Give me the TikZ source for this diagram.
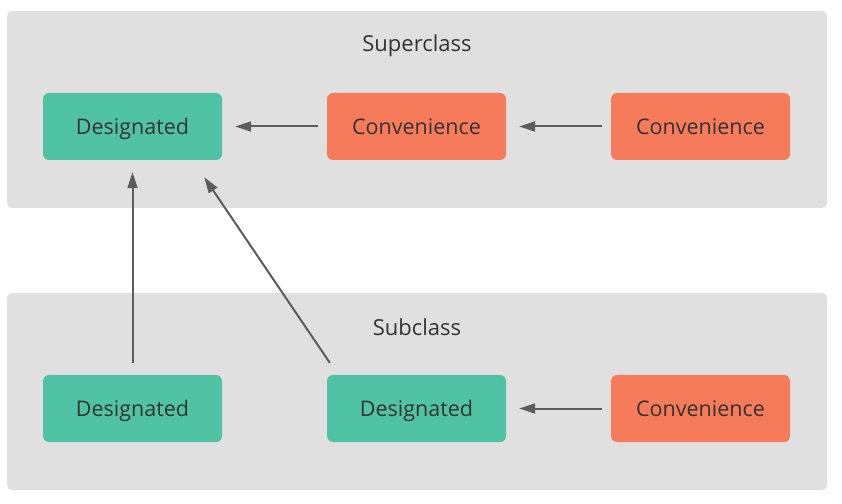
\documentclass[tikz,border=0pt]{standalone}
\usepackage{fontspec}
\setmainfont{Open Sans}
\usetikzlibrary{arrows.meta,calc}
\definecolor{panelgray}{HTML}{E0E0E0}
\definecolor{desgreen}{HTML}{50C3A5}
\definecolor{convorange}{HTML}{F57B5A}
\definecolor{inkgray}{HTML}{333333}
\definecolor{arrowgray}{HTML}{5C5C5C}
\begin{document}
\begin{tikzpicture}[x=1pt,y=1pt,
  panel/.style={fill=panelgray,rounded corners=5pt,draw=none},
  initbox/.style={minimum width=179pt,minimum height=67pt,rounded corners=6pt,
    draw=none,text=inkgray,font=\fontsize{21.5}{24}\selectfont,inner sep=0pt,
    text height=15.5pt,text depth=0pt,anchor=center},
  designated/.style={initbox,fill=desgreen},
  convenience/.style={initbox,fill=convorange},
  caption/.style={text=inkgray,font=\fontsize{22}{24}\selectfont},
  delegate/.style={draw=arrowgray,line width=2pt,
    -{Triangle[length=16pt,width=10pt]}}]
  \useasboundingbox (0,0) rectangle (842,503);
  % class panels
  \fill[panel] (7,295) rectangle (827,492);
  \fill[panel] (7,13) rectangle (827,210);
  \node[caption] (super) at (417,457) {Superclass};
  \node[caption] (sub) at (417,176) {Subclass};
  % superclass initializers
  \node[designated]  (sd)  at (132.5,376.5) {Designated};
  \node[convenience] (sc1) at (416.5,376.5) {Convenience};
  \node[convenience] (sc2) at (700.5,376.5) {Convenience};
  % subclass initializers
  \node[designated]  (bd1) at (132.5,94.5) {Designated};
  \node[designated]  (bd2) at (416.5,94.5) {Designated};
  \node[convenience] (bc)  at (700.5,94.5) {Convenience};
  % delegation arrows
  \draw[delegate] ($(sc1.west)+(-9,0)$) -- ($(sd.east)+(13,0)$);
  \draw[delegate] ($(sc2.west)+(-9,0)$) -- ($(sc1.east)+(13,0)$);
  \draw[delegate] ($(bc.west)+(-9,0)$) -- ($(bd2.east)+(13,0)$);
  \draw[delegate] ($(bd1.north)+(0,12)$) -- ($(sd.south)+(0,-12)$);
  \draw[delegate] ($(bd2.north west)+(3,12)$) -- ($(sd.south east)+(-18,-17)$);
\end{tikzpicture}
\end{document}
